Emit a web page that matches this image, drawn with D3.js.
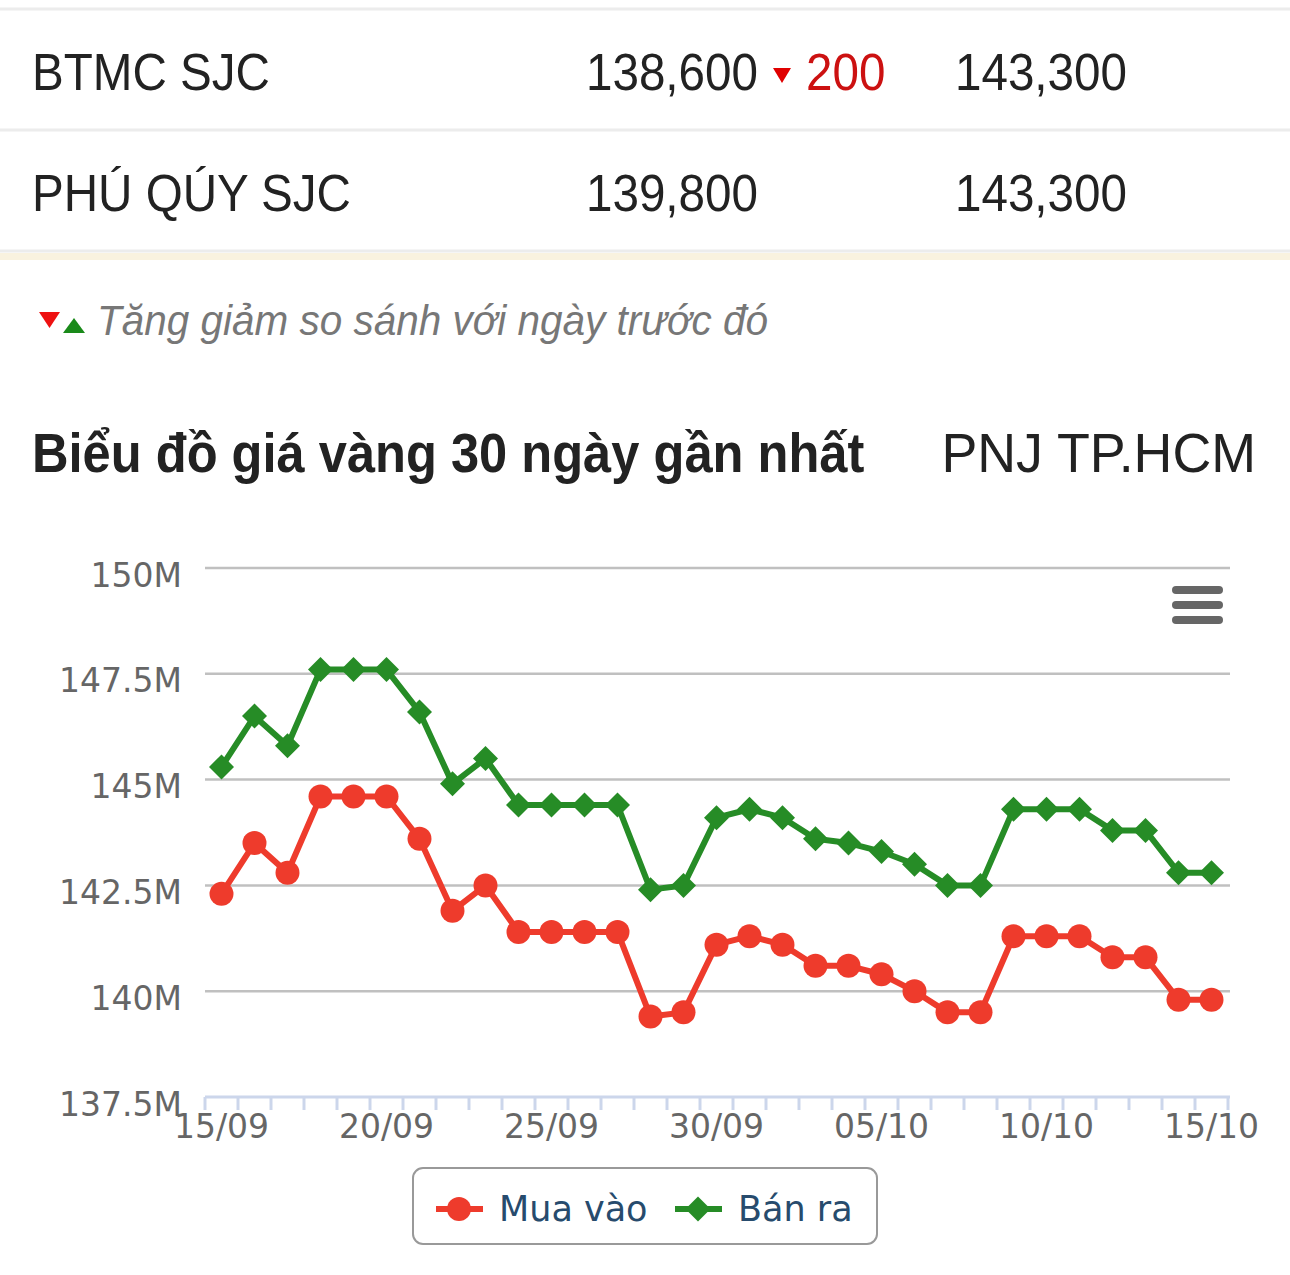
<!DOCTYPE html>
<html>
<head>
<meta charset="utf-8">
<script src="https://cdn.jsdelivr.net/npm/d3@7"></script>
<style>
  body { margin: 0; background: #fff; }
  #chart { width: 1290px; height: 1275px; }
  .sans { font-family: "Liberation Sans", Arial, sans-serif; }
  .verd { font-family: "DejaVu Sans", Verdana, sans-serif; }
</style>
</head>
<body>
<div id="chart"></div>
<script>
// Price table
var tableRows = ["BTMC SJC", "PHÚ QÚY SJC"];
var buyPrices = ["138,600", "139,800"];
var buyChange = ["200", ""];
var sellPrices = ["143,300", "143,300"];

// Chart data (million VND)
var days = ["15/09","16/09","17/09","18/09","19/09","20/09","21/09","22/09","23/09","24/09",
    "25/09","26/09","27/09","28/09","29/09","30/09","01/10","02/10","03/10","04/10",
    "05/10","06/10","07/10","08/10","09/10","10/10","11/10","12/10","13/10","14/10","15/10"];
var muaVao = [142.3, 143.5, 142.8, 144.6, 144.6, 144.6, 143.6, 141.9, 142.5, 141.4,
    141.4, 141.4, 141.4, 139.4, 139.5, 141.1, 141.3, 141.1, 140.6, 140.6,
    140.4, 140.0, 139.5, 139.5, 141.3, 141.3, 141.3, 140.8, 140.8, 139.8, 139.8];
var banRa = [145.3, 146.5, 145.8, 147.6, 147.6, 147.6, 146.6, 144.9, 145.5, 144.4,
    144.4, 144.4, 144.4, 142.4, 142.5, 144.1, 144.3, 144.1, 143.6, 143.5,
    143.3, 143.0, 142.5, 142.5, 144.3, 144.3, 144.3, 143.8, 143.8, 142.8, 142.8];
var yTicks = [137.5, 140, 142.5, 145, 147.5, 150];

var width = 1290, height = 1275;
var svg = d3.select("#chart").append("svg")
    .attr("width", width)
    .attr("height", height);

// squeezed text helper (source font is narrower than Liberation Sans)
function sText(g, x, y, txt, sx, anchor) {
    return g.append("text")
        .attr("transform", "translate(" + x + "," + y + ") scale(" + sx + ",1)")
        .attr("text-anchor", anchor || "start")
        .text(txt);
}

// ---- top table ----
var rowY = [90, 211];
[9, 130, 251].forEach(function (y) {
    svg.append("rect").attr("x", 0).attr("y", y - 1.5).attr("width", width).attr("height", 3).attr("fill", "#ececec");
});
svg.append("rect").attr("x", 0).attr("y", 253).attr("width", width).attr("height", 7).attr("fill", "#f9f2df");

var rows = svg.append("g").attr("class", "sans").attr("font-size", 52).attr("fill", "#222");
tableRows.forEach(function (name, i) {
    sText(rows, 32, rowY[i], name, 0.915);
    sText(rows, 586, rowY[i], buyPrices[i], 0.915);
    sText(rows, 955, rowY[i], sellPrices[i], 0.915);
    if (buyChange[i] !== "") {
        rows.append("path")
            .attr("d", "M-9,0L9,0L0,15Z")
            .attr("transform", "translate(782," + (rowY[i] - 22) + ")")
            .attr("fill", "#e00000");
        sText(rows, 806, rowY[i], buyChange[i], 0.915).attr("fill", "#cc1111");
    }
});

// ---- note ----
svg.append("path").attr("d", "M39,312L60,312L49.5,328Z").attr("fill", "#ee1111");
svg.append("path").attr("d", "M63,333L85,333L74,318Z").attr("fill", "#1a8a1a");
var note = svg.append("g").attr("class", "sans").attr("font-size", 42)
    .attr("font-style", "italic").attr("fill", "#777");
sText(note, 97, 335, "Tăng giảm so sánh với ngày trước đó", 0.964);

// ---- title ----
var title = svg.append("g").attr("class", "sans").attr("font-size", 56).attr("fill", "#222");
sText(title, 32, 472, "Biểu đồ giá vàng 30 ngày gần nhất", 0.904).attr("font-weight", "bold");
sText(title, 1256, 472, "PNJ TP.HCM", 0.96, "end");

// ---- chart ----
var plotLeft = 205, plotRight = 1228, plotTop = 568, plotBottom = 1097;
var x = d3.scaleBand().domain(days).range([plotLeft, plotRight]).padding(0);
var y = d3.scaleLinear().domain([137.5, 150]).range([plotBottom, plotTop]);
var cx = function (d) { return x(d) + x.bandwidth() / 2; };

// grid
svg.append("g").selectAll("line")
    .data(yTicks.filter(function (t) { return t > 137.5; }))
    .enter().append("line")
    .attr("x1", plotLeft).attr("x2", plotRight + 2)
    .attr("y1", function (d) { return y(d); })
    .attr("y2", function (d) { return y(d); })
    .attr("stroke", "#c0c0c0").attr("stroke-width", 2.5);

// y axis labels
var yAxis = d3.axisLeft(y).tickValues(yTicks).tickSize(0).tickPadding(23)
    .tickFormat(function (d) { return d + "M"; });
var yg = svg.append("g").attr("transform", "translate(" + plotLeft + ",0)").call(yAxis);
yg.select(".domain").remove();
yg.selectAll("text").attr("class", "verd").attr("font-size", 33).attr("fill", "#666").attr("dy", 18);

// x axis
var xg = svg.append("g").attr("transform", "translate(0," + plotBottom + ")");
xg.append("line").attr("x1", plotLeft).attr("x2", plotRight + 2)
    .attr("stroke", "#ccd6eb").attr("stroke-width", 3);
xg.selectAll(".tk").data(days.concat(["end"])).enter().append("line")
    .attr("class", "tk")
    .attr("x1", function (d, i) { return i < days.length ? x(d) : plotRight; })
    .attr("x2", function (d, i) { return i < days.length ? x(d) : plotRight; })
    .attr("y1", 0).attr("y2", 13)
    .attr("stroke", "#ccd6eb").attr("stroke-width", 3);
xg.selectAll(".lbl").data(days.filter(function (d, i) { return i % 5 === 0; }))
    .enter().append("text")
    .attr("class", "verd lbl")
    .attr("x", cx).attr("y", 41)
    .attr("text-anchor", "middle")
    .attr("font-size", 33).attr("fill", "#666")
    .text(function (d) { return d; });

// lines
var lineGen = function (vals) {
    return d3.line().x(function (d, i) { return cx(days[i]); }).y(function (d) { return y(d); })(vals);
};
svg.append("path").attr("d", lineGen(banRa))
    .attr("fill", "none").attr("stroke", "#268c26").attr("stroke-width", 6).attr("stroke-linejoin", "round");
svg.append("path").attr("d", lineGen(muaVao))
    .attr("fill", "none").attr("stroke", "#ee3b2c").attr("stroke-width", 6).attr("stroke-linejoin", "round");

var diamond = "M0,-12.5L12.5,0L0,12.5L-12.5,0Z";
svg.append("g").selectAll("path").data(banRa).enter().append("path")
    .attr("d", diamond)
    .attr("transform", function (d, i) { return "translate(" + cx(days[i]) + "," + y(d) + ")"; })
    .attr("fill", "#268c26");
svg.append("g").selectAll("circle").data(muaVao).enter().append("circle")
    .attr("cx", function (d, i) { return cx(days[i]); })
    .attr("cy", function (d) { return y(d); })
    .attr("r", 12)
    .attr("fill", "#ee3b2c");

// menu icon
svg.append("g").selectAll("rect").data([0, 1, 2]).enter().append("rect")
    .attr("x", 1172).attr("y", function (d) { return 586 + d * 15; })
    .attr("width", 51).attr("height", 8).attr("rx", 4)
    .attr("fill", "#666");

// legend
var lg = svg.append("g");
lg.append("rect").attr("x", 413).attr("y", 1168).attr("width", 464).attr("height", 76)
    .attr("rx", 10).attr("fill", "#fff").attr("stroke", "#999").attr("stroke-width", 2);
lg.append("line").attr("x1", 436).attr("x2", 483).attr("y1", 1209).attr("y2", 1209)
    .attr("stroke", "#ee3b2c").attr("stroke-width", 6);
lg.append("circle").attr("cx", 459).attr("cy", 1209).attr("r", 12).attr("fill", "#ee3b2c");
lg.append("text").attr("class", "verd").attr("x", 499).attr("y", 1221)
    .attr("font-size", 35).attr("fill", "#274b6d").text("Mua vào");
lg.append("line").attr("x1", 675).attr("x2", 722).attr("y1", 1209).attr("y2", 1209)
    .attr("stroke", "#268c26").attr("stroke-width", 6);
lg.append("path").attr("d", diamond).attr("transform", "translate(698,1209)").attr("fill", "#268c26");
lg.append("text").attr("class", "verd").attr("x", 738).attr("y", 1221)
    .attr("font-size", 35).attr("fill", "#274b6d").text("Bán ra");
</script>
</body>
</html>
